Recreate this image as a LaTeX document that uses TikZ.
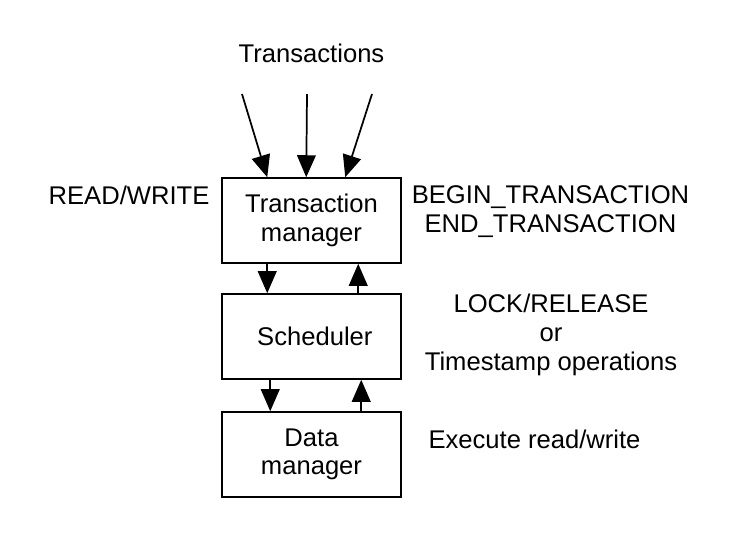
\documentclass[tikz,border=0pt]{standalone}
\usepackage{fontspec}
\setmainfont{Liberation Sans}
\usetikzlibrary{arrows.meta,calc}
\begin{document}
\begin{tikzpicture}[x=0.75pt,y=-0.75pt,
  every node/.style={font=\fontsize{19.2}{21.5}\selectfont},
  box/.style={draw,line width=1.4pt,minimum width=134pt,minimum height=63.5pt,align=center,inner sep=0pt},
  lbl/.style={align=center,inner sep=0pt},
  arr/.style={line width=1.3pt,-{Triangle[length=16.5pt,width=14pt]}}]
\useasboundingbox (0,0) rectangle (749,558);
\node[box] (tm) at (311.5,220.5) {Transaction\\manager};
\node[box] (sch) at (311.5,336.5) {\hspace*{5pt}Scheduler};
\node[box] (dm) at (311.5,454.5) {Data\\manager};
\coordinate (t1) at (242,94);
\coordinate (t2) at (307,94);
\coordinate (t3) at (372,94);
\draw[arr] (t1) -- ($(tm.north west)+(46,0)$);
\draw[arr] (t2) -- ($(tm.north west)+(85,0)$);
\draw[arr] (t3) -- ($(tm.north west)+(124,0)$);
\draw[arr] ($(tm.south west)+(46,0)$) -- ($(sch.north west)+(46,0)$);
\draw[arr] ($(sch.north west)+(137,0)$) -- ($(tm.south west)+(137,0)$);
\draw[arr] ($(sch.south west)+(49,0)$) -- ($(dm.north west)+(49,0)$);
\draw[arr] ($(dm.north west)+(140,0)$) -- ($(sch.south west)+(140,0)$);
\node[lbl,anchor=base] (trans) at (311.5,62) {Transactions};
\node[lbl,anchor=base] (rw) at (129,204) {READ/WRITE};
\node[lbl,anchor=base] (be) at (550.5,232) {BEGIN\_TRANSACTION\\END\_TRANSACTION};
\node[lbl,anchor=base] (lock) at (551,370) {LOCK/RELEASE\\or\\Timestamp operations};
\node[lbl,anchor=base] (exec) at (534.5,448) {Execute read/write};
\end{tikzpicture}
\end{document}
